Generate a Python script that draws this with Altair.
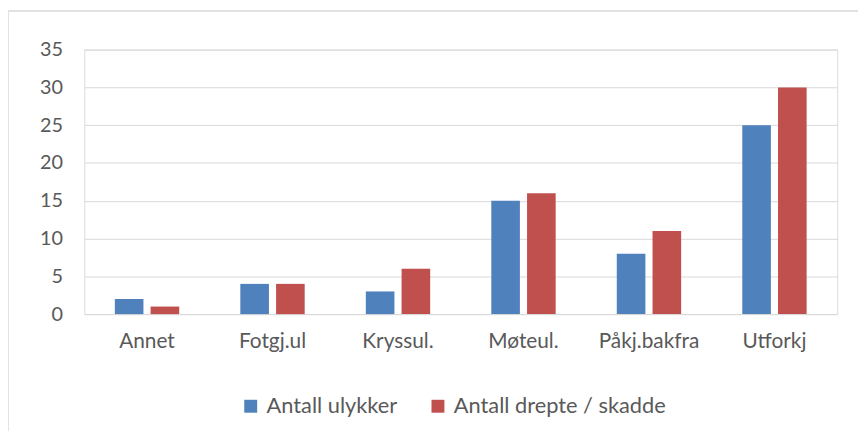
import altair as alt
import pandas as pd

categories = ["Annet", "Fotgj.ul", "Kryssul.", "Møteul.", "Påkj.bakfra", "Utforkj"]
series_names = ["Antall ulykker", "Antall drepte / skadde"]
ulykker = [2, 4, 3, 15, 8, 25]
drepte_skadde = [1, 4, 6, 16, 11, 30]
y_ticks = [0, 5, 10, 15, 20, 25, 30, 35]
colors = ["#4F81BD", "#C0504D"]

rows = []
for c, a, b in zip(categories, ulykker, drepte_skadde):
    rows.append({"kategori": c, "serie": series_names[0], "verdi": a})
    rows.append({"kategori": c, "serie": series_names[1], "verdi": b})
df = pd.DataFrame(rows)

FONT = "Lato"
TXT = "#595959"

bars = alt.Chart(df).mark_bar().encode(
    x=alt.X("kategori:N", sort=categories,
            scale=alt.Scale(paddingInner=0.487, paddingOuter=0.2435),
            axis=alt.Axis(title=None, labelAngle=0, domain=False, ticks=False,
                          labelPadding=17, labelFontSize=21, labelColor=TXT,
                          labelFont=FONT, grid=False)),
    xOffset=alt.XOffset("serie:N", sort=series_names,
                        scale=alt.Scale(paddingInner=0.2, paddingOuter=0)),
    y=alt.Y("verdi:Q", scale=alt.Scale(domain=[0, 35], nice=False),
            axis=alt.Axis(title=None, values=y_ticks, domain=False, ticks=False,
                          labelPadding=22, labelFontSize=20, labelColor=TXT,
                          labelFont=FONT, gridColor="#D9D9D9", gridWidth=1)),
    color=alt.Color("serie:N", sort=series_names,
                    scale=alt.Scale(domain=series_names, range=colors),
                    legend=alt.Legend(title=None, orient="none", direction="horizontal",
                                      legendX=157, legendY=349,
                                      symbolType="square", symbolSize=170,
                                      symbolStrokeWidth=0, labelLimit=400,
                                      labelFontSize=22, labelColor=TXT, labelFont=FONT,
                                      columnPadding=30, labelOffset=5)),
)

frame = alt.Chart(pd.DataFrame({"k": [0]})).mark_rule(color="#D9D9D9", strokeWidth=1.5).encode(
    x=alt.value(-77), x2=alt.value(800), y=alt.value(-39)
)
frame_left = alt.Chart(pd.DataFrame({"k": [0]})).mark_rule(color="#D9D9D9", strokeWidth=1.5).encode(
    x=alt.value(-77), y=alt.value(-39), y2=alt.value(400)
)

chart = alt.layer(frame, frame_left, bars).properties(
    width=760, height=267,
    autosize=alt.AutoSizeParams(type="none"),
    padding={"left": 77, "top": 40, "right": 21, "bottom": 116},
).configure_view(stroke=None).configure(background="white")

chart.save("out.html", embed_options={"renderer": "svg", "actions": False})
